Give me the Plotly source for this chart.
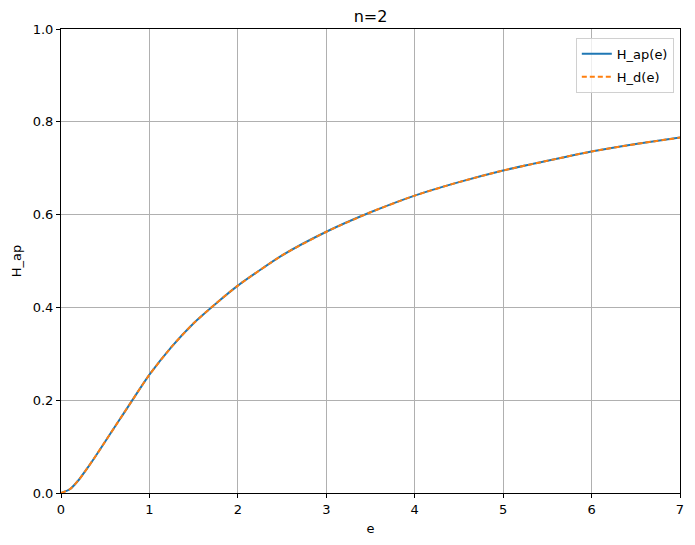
import plotly.graph_objects as go

e_vals = [0, 0.1, 0.2, 0.3, 0.4, 0.5, 0.6, 0.7, 0.8, 0.9, 1.0, 1.25, 1.5, 1.75, 2.0, 2.5, 3.0, 3.5, 4.0, 4.5, 5.0, 5.5, 6.0, 6.5, 7.0]
h_ap = [0, 0.008, 0.028, 0.054, 0.082, 0.111, 0.140, 0.169, 0.198, 0.227, 0.255, 0.315, 0.366, 0.408, 0.447, 0.512, 0.563, 0.605, 0.641, 0.670, 0.695, 0.716, 0.736, 0.752, 0.766]
h_d = list(h_ap)

x_ticks = [0, 1, 2, 3, 4, 5, 6, 7]
y_ticks = [0.0, 0.2, 0.4, 0.6, 0.8, 1.0]

font = "DejaVu Sans"

fig = go.Figure()
fig.add_trace(go.Scatter(x=e_vals, y=h_ap, mode="lines", name="H_ap(e)", legendgroup="a",
                         line=dict(color="#1f77b4", width=2, shape="spline", smoothing=0.6)))
fig.add_trace(go.Scatter(x=e_vals, y=h_d, mode="lines", name="H_d(e)", legendgroup="b",
                         line=dict(color="#ff7f0e", width=2, dash="5px,3px", shape="spline", smoothing=0.6)))

axis_common = dict(showline=True, linecolor="black", linewidth=1, mirror=True,
                   ticks="outside", ticklen=4, tickcolor="black", tickwidth=1,
                   showgrid=True, gridcolor="#b0b0b0", gridwidth=1, zeroline=False,
                   tickfont=dict(family=font, size=13, color="black"))

fig.update_layout(
    width=679, height=529,
    margin=dict(l=53, r=3, t=21, b=43),
    paper_bgcolor="white", plot_bgcolor="white",
    title=dict(text="n=2", x=0.5, xref="paper", xanchor="center", y=1, yref="paper",
               yanchor="bottom", pad=dict(b=7), font=dict(family=font, size=16, color="black")),
    xaxis=dict(range=[0, 7], tickvals=x_ticks, ticktext=[str(v) for v in x_ticks],
               ticklabeloverflow="allow",
               title=dict(text="e", font=dict(family=font, size=13, color="black"), standoff=8),
               **axis_common),
    yaxis=dict(range=[0, 1], tickvals=y_ticks, ticktext=[f"{v:.1f}" for v in y_ticks],
               title=dict(text="H_ap", font=dict(family=font, size=13, color="black"), standoff=8),
               **axis_common),
    legend=dict(x=0.990, y=0.981, xanchor="right", yanchor="top", tracegroupgap=3,
                bgcolor="rgba(255,255,255,0.8)", bordercolor="#d0d0d0", borderwidth=1,
                font=dict(family=font, size=13, color="black")),
    showlegend=True,
)

fig.write_html("out.html")
